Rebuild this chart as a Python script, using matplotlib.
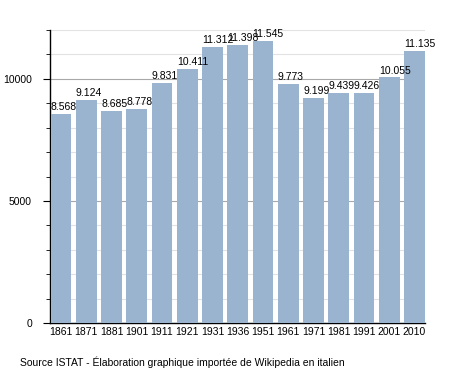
import matplotlib
matplotlib.use('Agg')
import matplotlib.pyplot as plt
from matplotlib.ticker import MultipleLocator

plt.rcParams['font.family'] = ['Liberation Sans', 'DejaVu Sans']

years = ['1861', '1871', '1881', '1901', '1911', '1921', '1931', '1936',
         '1951', '1961', '1971', '1981', '1991', '2001', '2010']
pop = [8568, 9124, 8685, 8778, 9831, 10411, 11312, 11398,
       11545, 9773, 9199, 9439, 9426, 10055, 11135]

fig = plt.figure(figsize=(4.55, 3.73), dpi=100)
ax = fig.add_axes([50/455, 1-323/373, 375/455, 293/373])

x = list(range(len(years)))
w = 0.82
ax.bar(x, pop, width=w, color='#9ab3cf', zorder=3)
for xi, v in zip(x, pop):
    lbl = '{:,}'.format(v).replace(',', '.')
    ax.text(xi - w/2, v + 80, lbl, ha='left', va='bottom', fontsize=7.5, zorder=4)

ax.set_xlim(-w/2 - 0.03, len(years) - 1 + w/2 + 0.01)
ax.set_ylim(0, 12000)
ax.yaxis.set_major_locator(MultipleLocator(5000))
ax.yaxis.set_minor_locator(MultipleLocator(1000))
ax.grid(axis='y', which='major', color='#a8a8a8', lw=0.8, zorder=1)
ax.grid(axis='y', which='minor', color='#e2e2e2', lw=0.8, zorder=1)
ax.set_xticks(x)
ax.set_xticklabels(years, fontsize=7.5)
ax.tick_params(axis='x', length=0, pad=3)
ax.tick_params(axis='y', which='major', length=5, labelsize=7.5, pad=8)
ax.tick_params(axis='y', which='minor', length=3)
for s in ['top', 'right']:
    ax.spines[s].set_visible(False)
ax.spines['left'].set_linewidth(1)
ax.spines['bottom'].set_linewidth(1)

fig.text(20/455, 1-362/373, 'Source ISTAT - Élaboration graphique importée de Wikipedia en italien',
         fontsize=7.5, va='center', ha='left')

fig.savefig('out.png', dpi=100)
